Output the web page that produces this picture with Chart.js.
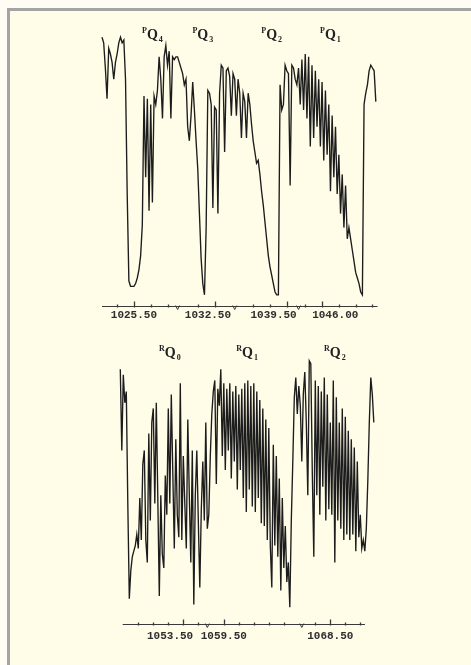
<!DOCTYPE html>
<html>
<head>
<meta charset="utf-8">
<script src="https://cdn.jsdelivr.net/npm/chart.js@4.4.1/dist/chart.umd.min.js"></script>
<style>
  html, body { margin: 0; padding: 0; background: #fffdf3; }
  body { width: 471px; height: 665px; position: relative; overflow: hidden; }
  #frame { position: absolute; left: 7px; top: 8px; right: 0; bottom: 0; background: #fffce8;
           border-left: 3px solid #a4a4a4; border-top: 3px solid #a4a4a4; }
  .panel { position: absolute; left: 0; width: 471px; }
  #top { top: 0; height: 330px; }
  #bottom { top: 330px; height: 335px; }
</style>
</head>
<body>
<div id="frame"></div>
<div class="panel" id="top"><canvas id="p-branch-chart"></canvas></div>
<div class="panel" id="bottom"><canvas id="r-branch-chart"></canvas></div>
<script>
// spectrum sampled every 0.1 cm-1, transmittance in %
const STEP = 0.1;

// upper trace: PQ heads, axis broken into four pieces
const pStarts = [1023.6, 1030.3, 1036.4, 1044.6];
const pPieceA = [96, 94, 85, 74, 92, 90, 87, 81, 87, 90, 94, 96, 94, 95, 81, 40, 9, 7, 7, 7,
                 8, 10, 13, 18, 29, 75, 46, 74, 34, 72, 37, 75, 72, 77, 89, 81, 67, 89, 93, 86,
                 91, 67, 89, 88, 89];
const pPieceB = [89, 87, 85, 83, 79, 81, 64, 59, 68, 80, 70, 59, 49, 33, 17, 8, 4, 28, 77, 76,
                 72, 35, 71, 70, 33, 76, 86, 85, 55, 84, 85, 82, 68, 83];
const pPieceC = [81, 68, 81, 76, 60, 76, 73, 60, 76, 72, 65, 59, 55, 51, 52, 47, 41, 36, 30, 24,
                 18, 14, 11, 8, 5, 4, 4, 79, 70, 72, 86, 84, 83, 43, 86, 85, 81, 79];
const pPieceD = [85, 72, 88, 70, 90, 67, 89, 57, 86, 60, 84, 64, 81, 57, 80, 52, 77, 54, 72, 41,
                 68, 46, 64, 40, 54, 33, 47, 28, 43, 24, 28, 24, 20, 16, 12, 10, 8, 5, 4, 72,
                 76, 79, 84, 86, 85, 84, 73];
const pTickLabels = ['1025.50', '1032.50', '1039.50', '1046.00'];
const pBandSubs = ['4', '3', '2', '1'];
const pBandPos = [1026.6, 1031.8, 1038.6, 1046.5];

// lower trace: RQ heads, axis broken into three pieces
const rStarts = [1049.3, 1058.4, 1066.6];
const rPieceE = [91, 62, 89, 79, 83, 43, 9, 19, 24, 26, 28, 32, 27, 45, 30, 57, 62, 30, 22, 68,
                 37, 72, 77, 43, 79, 45, 10, 46, 25, 20, 53, 39, 77, 43, 82, 54, 27, 66, 39, 31,
                 86, 30, 60, 43, 27, 73, 46, 22, 62, 7, 46, 62, 37, 13, 41, 58, 37, 72];
const rPieceF = [34, 39, 60, 75, 83, 87, 50, 84, 78, 91, 60, 86, 55, 84, 62, 86, 52, 83, 58, 85,
                 48, 82, 55, 84, 45, 86, 40, 87, 48, 85, 42, 86, 40, 83, 45, 80, 36, 77, 35, 73,
                 30, 70, 28, 13, 64, 28, 60, 24, 52, 12, 45, 20, 35, 15, 22, 6, 37, 58, 81, 88,
                 75, 85, 78];
const rPieceG = [58, 82, 90, 72, 46, 94, 93, 54, 24, 87, 46, 85, 39, 83, 49, 88, 37, 82, 41, 72,
                 39, 87, 22, 81, 37, 72, 34, 77, 30, 74, 32, 69, 30, 66, 32, 63, 26, 58, 31, 39,
                 27, 30, 26, 34, 51, 72, 88, 82, 72];
const rTickLabels = ['1053.50', '1059.50', '1068.50'];
const rBandSubs = ['0', '1', '2'];
const rBandPos = [1052.6, 1061.05, 1068.8];

// label nudges in character widths (the printed labels sit off their ticks)
const pLabelNudge = [0, -2, -4, 4];
const rLabelNudge = [-4, 0, 0];

function buildPanel(starts, pieces, tickLabels, nudges, bandSubs, bandPos, sup) {
    const segs = [];
    const points = [];
    let offset = 0;
    pieces.forEach((vals, k) => {
        segs.push({ start: starts[k], end: starts[k] + vals.length * STEP, offset });
        vals.forEach((v, i) => points.push({ x: offset + i * STEP, y: v }));
        offset += vals.length * STEP;
    });
    const axisPos = w => {
        const s = segs.find(s => w >= s.start - 1e-6 && w < s.end);
        return s.offset + (w - s.start);
    };
    const ticks = [];
    tickLabels.forEach((lab, j) => {
        const major = parseFloat(lab);
        const s = segs.find(s => major >= s.start && major < s.end);
        const n = nudges[j];
        const text = n > 0 ? ' '.repeat(n) + lab : lab + ' '.repeat(-n);
        for (let k = -8; k <= 8; k++) {
            const w = major + k;
            if (w < s.start + 0.25 || w > s.end - 0.25) continue;
            ticks.push({ value: s.offset + (w - s.start), label: k === 0 ? text : '', major: k === 0 });
        }
    });
    return {
        points,
        ticks,
        breaks: segs.slice(1).map(s => s.offset),
        bands: bandSubs.map((sub, i) => ({ sup, sub, value: axisPos(bandPos[i]) }))
    };
}

const pPanel = buildPanel(pStarts, [pPieceA, pPieceB, pPieceC, pPieceD], pTickLabels, pLabelNudge, pBandSubs, pBandPos, 'P');
const rPanel = buildPanel(rStarts, [rPieceE, rPieceF, rPieceG], rTickLabels, rLabelNudge, rBandSubs, rBandPos, 'R');

// axis line, tick marks standing up from it, and the little "v" at each break
const axisMarks = {
    id: 'axisMarks',
    afterDatasetsDraw(chart, args, opts) {
        const { ctx, chartArea } = chart;
        const x = chart.scales.x;
        const y0 = Math.round(chartArea.bottom) + 0.5;
        ctx.save();
        ctx.strokeStyle = '#3a3a3a';
        ctx.lineWidth = 1;
        ctx.beginPath();
        ctx.moveTo(x.getPixelForValue(opts.from), y0);
        ctx.lineTo(x.getPixelForValue(opts.to), y0);
        ctx.stroke();
        ctx.lineWidth = 1.3;
        opts.panel.ticks.forEach(t => {
            const px = Math.round(x.getPixelForValue(t.value)) + 0.5;
            ctx.beginPath();
            ctx.moveTo(px, y0 - (t.major ? 5 : 2));
            ctx.lineTo(px, y0 + 1);
            ctx.stroke();
        });
        ctx.lineWidth = 1;
        opts.panel.breaks.forEach(b => {
            const px = x.getPixelForValue(b);
            ctx.beginPath();
            ctx.moveTo(px - 2, y0 - 1);
            ctx.lineTo(px, y0 + 3);
            ctx.lineTo(px + 2, y0 - 1);
            ctx.stroke();
        });
        ctx.restore();
    }
};

// band names like PQ4 with superscript and subscript
const bandLabels = {
    id: 'bandLabels',
    afterDatasetsDraw(chart, args, opts) {
        const { ctx, chartArea } = chart;
        const x = chart.scales.x;
        const base = chartArea.top + opts.baseline;
        ctx.save();
        ctx.fillStyle = '#222';
        ctx.textBaseline = 'alphabetic';
        ctx.textAlign = 'left';
        opts.panel.bands.forEach(b => {
            const cx = x.getPixelForValue(b.value);
            ctx.font = 'bold 8px "Liberation Serif"';
            const ws = ctx.measureText(b.sup).width;
            const wb = ctx.measureText(b.sub).width;
            ctx.font = 'bold 14px "Liberation Serif"';
            const wq = ctx.measureText('Q').width;
            const left = cx - (ws + wq + wb + 1) / 2;
            ctx.fillText('Q', left + ws, base);
            ctx.font = 'bold 8px "Liberation Serif"';
            ctx.fillText(b.sup, left, base - 6);
            ctx.fillText(b.sub, left + ws + wq + 1, base + 3);
        });
        ctx.restore();
    }
};

function makeChart(canvasId, panel, range, axisSpan, padding, labelPad, baseline) {
    new Chart(document.getElementById(canvasId), {
        type: 'line',
        data: {
            datasets: [{
                data: panel.points,
                borderColor: '#1c1c1c',
                borderWidth: 1.35,
                pointRadius: 0,
                tension: 0,
                fill: false,
                clip: false
            }]
        },
        options: {
            responsive: true,
            maintainAspectRatio: false,
            animation: false,
            layout: { padding },
            plugins: {
                legend: { display: false },
                tooltip: { enabled: false },
                axisMarks: { panel, from: axisSpan[0], to: axisSpan[1] },
                bandLabels: { panel, baseline }
            },
            scales: {
                x: {
                    type: 'linear',
                    min: range[0],
                    max: range[1],
                    grid: { display: false, drawTicks: false },
                    border: { display: false },
                    afterBuildTicks: s => { s.ticks = panel.ticks.map(t => ({ value: t.value })); },
                    afterFit: s => { s.height = 24; },
                    ticks: {
                        autoSkip: false,
                        maxRotation: 0,
                        padding: labelPad,
                        color: '#2e2e2e',
                        font: { family: 'Liberation Mono', size: 11, weight: 'bold' },
                        callback: (v, i) => panel.ticks[i] ? panel.ticks[i].label : ''
                    }
                },
                y: { display: false, min: 0, max: 100 }
            }
        },
        plugins: [axisMarks, bandLabels]
    });
}

makeChart('p-branch-chart', pPanel, [0, 16.4], [0, 16.4],
          { left: 102, right: 93.5, top: 26, bottom: 0 }, 3, 13);
makeChart('r-branch-chart', rPanel, [0, 16.9], [0.16, 16.31],
          { left: 120.3, right: 97.2, top: 14, bottom: 17 }, 6, 13);
</script>
</body>
</html>
